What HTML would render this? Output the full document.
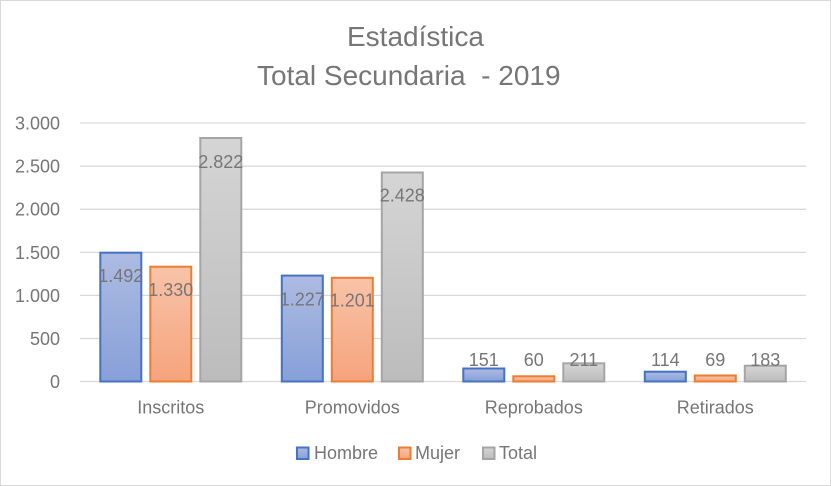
<!DOCTYPE html>
<html><head><meta charset="utf-8"><style>
html,body{margin:0;padding:0;background:#fff;}
svg{display:block;}
text{font-family:"Liberation Sans",sans-serif;fill:#767676;}
</style></head><body>
<svg width="831" height="486" viewBox="0 0 831 486" xmlns="http://www.w3.org/2000/svg">
<defs>
<linearGradient id="gb" x1="0" y1="0" x2="0" y2="1"><stop offset="0" stop-color="#adbbe2"/><stop offset="1" stop-color="#87a0d8"/></linearGradient>
<linearGradient id="go" x1="0" y1="0" x2="0" y2="1"><stop offset="0" stop-color="#f8c3a8"/><stop offset="1" stop-color="#f5a47c"/></linearGradient>
<linearGradient id="gg" x1="0" y1="0" x2="0" y2="1"><stop offset="0" stop-color="#d5d5d5"/><stop offset="1" stop-color="#bcbcbc"/></linearGradient>
</defs>
<rect x="0.5" y="0.5" width="830" height="485" fill="#fff" stroke="#d9d9d9"/>
<text x="347" y="46" font-size="28">Estadística</text>
<text x="257" y="85" font-size="28" style="white-space:pre">Total Secundaria  - 2019</text>
<g stroke="#d9d9d9" stroke-width="1.3">
<line x1="80" y1="123" x2="806" y2="123"/>
<line x1="80" y1="166.2" x2="806" y2="166.2"/>
<line x1="80" y1="209.3" x2="806" y2="209.3"/>
<line x1="80" y1="252.4" x2="806" y2="252.4"/>
<line x1="80" y1="295.4" x2="806" y2="295.4"/>
<line x1="80" y1="338.5" x2="806" y2="338.5"/>
<line x1="80" y1="381.5" x2="806" y2="381.5"/>
</g>
<g font-size="18" text-anchor="end">
<text x="60" y="129.5">3.000</text>
<text x="60" y="172.6">2.500</text>
<text x="60" y="215.7">2.000</text>
<text x="60" y="258.8">1.500</text>
<text x="60" y="301.8">1.000</text>
<text x="60" y="344.9">500</text>
<text x="60" y="388">0</text>
</g>
<g stroke-width="2">
<rect x="100.3" y="252.7" width="41" height="128.8" fill="url(#gb)" stroke="#4472c4"/>
<rect x="150.3" y="266.7" width="41" height="114.8" fill="url(#go)" stroke="#ed7d31"/>
<rect x="200.3" y="138" width="41" height="243.5" fill="url(#gg)" stroke="#a5a5a5"/>
<rect x="281.8" y="275.6" width="41" height="105.9" fill="url(#gb)" stroke="#4472c4"/>
<rect x="331.8" y="277.8" width="41" height="103.7" fill="url(#go)" stroke="#ed7d31"/>
<rect x="381.8" y="172.5" width="41" height="209" fill="url(#gg)" stroke="#a5a5a5"/>
<rect x="463.3" y="368.5" width="41" height="13" fill="url(#gb)" stroke="#4472c4"/>
<rect x="513.3" y="376.3" width="41" height="5.2" fill="url(#go)" stroke="#ed7d31"/>
<rect x="563.3" y="363.3" width="41" height="18.2" fill="url(#gg)" stroke="#a5a5a5"/>
<rect x="644.8" y="371.7" width="41" height="9.8" fill="url(#gb)" stroke="#4472c4"/>
<rect x="694.8" y="375.5" width="41" height="6" fill="url(#go)" stroke="#ed7d31"/>
<rect x="744.8" y="365.7" width="41" height="15.8" fill="url(#gg)" stroke="#a5a5a5"/>
</g>
<g font-size="18" text-anchor="middle">
<text x="120.8" y="282">1.492</text>
<text x="170.8" y="296">1.330</text>
<text x="220.8" y="168">2.822</text>
<text x="302.3" y="305.5">1.227</text>
<text x="352.3" y="306.5">1.201</text>
<text x="402.3" y="201.7">2.428</text>
<text x="483.8" y="366">151</text>
<text x="533.8" y="366">60</text>
<text x="583.8" y="366">211</text>
<text x="665.3" y="366">114</text>
<text x="715.3" y="366">69</text>
<text x="765.3" y="366">183</text>
</g>
<g font-size="18" text-anchor="middle">
<text x="170.8" y="413.5">Inscritos</text>
<text x="352.3" y="413.5">Promovidos</text>
<text x="533.8" y="413.5">Reprobados</text>
<text x="715.3" y="413.5">Retirados</text>
</g>
<g stroke-width="2">
<rect x="297" y="447.5" width="11.5" height="11.5" fill="url(#gb)" stroke="#4472c4"/>
<rect x="399" y="447.5" width="11.5" height="11.5" fill="url(#go)" stroke="#ed7d31"/>
<rect x="483" y="447.5" width="11.5" height="11.5" fill="url(#gg)" stroke="#a5a5a5"/>
</g>
<g font-size="18">
<text x="314" y="459">Hombre</text>
<text x="415" y="459">Mujer</text>
<text x="499" y="459">Total</text>
</g>
</svg>
</body></html>
